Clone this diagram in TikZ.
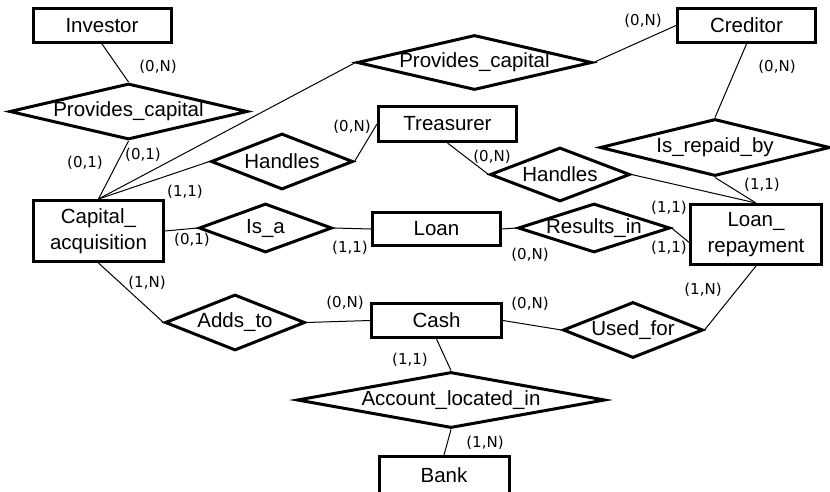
\documentclass[tikz,border=0pt]{standalone}
\usepackage{fontspec}
\setmainfont{Liberation Sans}
\newfontfamily\lblfont{DejaVu Sans}
\usetikzlibrary{shapes.geometric,calc}
\tikzset{
  ent/.style={draw, line width=3pt, inner sep=0pt, align=center,
    font=\fontsize{20.5}{25.5}\selectfont},
  rel/.style={draw, diamond, line width=3pt, inner sep=0pt, miter limit=20,
    font=\fontsize{20.5}{25}\selectfont},
  conn/.style={line width=1pt},
  card/.style={inner sep=0pt, font=\lblfont\fontsize{15}{18}\selectfont}
}
\newcommand{\rt}[1]{\makebox[0pt]{#1}}
\begin{document}
\begin{tikzpicture}[x=1pt,y=-1pt]
\useasboundingbox (0,0) rectangle (830,492);
% entities
\node[ent, minimum width=138pt, minimum height=34pt] (inv) at (102,25.5) {Investor};
\node[ent, minimum width=138pt, minimum height=34pt] (cred) at (746.5,25.5) {Creditor};
\node[ent, minimum width=138pt, minimum height=35pt] (treas) at (447.5,124) {Treasurer};
\node[ent, minimum width=130pt, minimum height=61pt] (cap) at (98.5,231) {Capital\_\\acquisition};
\node[ent, minimum width=128pt, minimum height=33pt] (loan) at (436.5,229) {Loan};
\node[ent, minimum width=131pt, minimum height=60pt] (lr) at (756,234.5) {Loan\_\\repayment};
\node[ent, minimum width=130pt, minimum height=34pt] (cash) at (436.5,320.5) {Cash};
\node[ent, minimum width=130pt, minimum height=37pt] (bank) at (444,475) {Bank};
% relationships
\node[rel, minimum width=238pt, minimum height=56pt, shape aspect=4.25] (pc1) at (128.5,111.5) {\rt{Provides\_capital}};
\node[rel, minimum width=235pt, minimum height=55pt, shape aspect=4.27] (pc2) at (474.5,62.5) {\rt{Provides\_capital}};
\node[rel, minimum width=142pt, minimum height=56pt, shape aspect=2.54] (h1) at (282,161.5) {\rt{Handles}};
\node[rel, minimum width=140pt, minimum height=54pt, shape aspect=2.59] (h2) at (560,174.5) {\rt{Handles}};
\node[rel, minimum width=230pt, minimum height=57pt, shape aspect=4.04] (irb) at (715,147.5) {\rt{Is\_repaid\_by}};
\node[rel, minimum width=133pt, minimum height=49pt, shape aspect=2.71] (isa) at (265.5,228) {\rt{Is\_a}};
\node[rel, minimum width=152pt, minimum height=49pt, shape aspect=3.1] (res) at (594,228) {\rt{Results\_in}};
\node[rel, minimum width=140pt, minimum height=56pt, shape aspect=2.5] (add) at (235,322.5) {\rt{Adds\_to}};
\node[rel, minimum width=140pt, minimum height=56pt, shape aspect=2.5] (used) at (633,330) {\rt{Used\_for}};
\node[rel, minimum width=308pt, minimum height=56pt, shape aspect=5.5] (ali) at (451,400) {\rt{Account\_located\_in}};
% connectors
\draw[conn] (inv.south) -- (pc1.north);
\draw[conn] (pc1.south) -- (cap.north);
\draw[conn] (cap.north) -- (pc2.west);
\draw[conn] (cap.north) -- (h1.west);
\draw[conn] (h1.east) -- (treas.west);
\draw[conn] (treas.south) -- (h2.west);
\draw[conn] (h2.east) -- (lr.north);
\draw[conn] (irb.south) -- (lr.north);
\draw[conn] (cred.west) -- (pc2.east);
\draw[conn] (cred.south) -- (irb.north);
\draw[conn] (cap.east) -- (isa.west);
\draw[conn] (isa.east) -- (loan.west);
\draw[conn] (loan.east) -- (res.west);
\draw[conn] (res.east) -- ($(lr.west)!0.25!(lr.south west)$);
\draw[conn] (cap.south) -- (add.west);
\draw[conn] (add.east) -- (cash.west);
\draw[conn] (cash.east) -- (used.west);
\draw[conn] (used.east) -- (lr.south);
\draw[conn] (cash.south) -- (ali.north);
\draw[conn] (ali.south) -- (bank.north);
% cardinalities
\node[card] (c1) at (158,67) {(0,N)};
\node[card] (c2) at (85,163) {(0,1)};
\node[card] (c3) at (143,155) {(0,1)};
\node[card] (c4) at (185,192) {(1,1)};
\node[card] (c5) at (352,127) {(0,N)};
\node[card] (c6) at (492,157) {(0,N)};
\node[card] (c7) at (643,21) {(0,N)};
\node[card] (c8) at (777,67) {(0,N)};
\node[card] (c9) at (762,185) {(1,1)};
\node[card] (c10) at (669,208) {(1,1)};
\node[card] (c11) at (669,248) {(1,1)};
\node[card] (c12) at (530,255) {(0,N)};
\node[card] (c13) at (192,240) {(0,1)};
\node[card] (c14) at (350,248) {(1,1)};
\node[card] (c15) at (147,283) {(1,N)};
\node[card] (c16) at (345,303) {(0,N)};
\node[card] (c17) at (530,304) {(0,N)};
\node[card] (c18) at (703,290) {(1,N)};
\node[card] (c19) at (410,360) {(1,1)};
\node[card] (c20) at (485,443) {(1,N)};
\end{tikzpicture}
\end{document}
